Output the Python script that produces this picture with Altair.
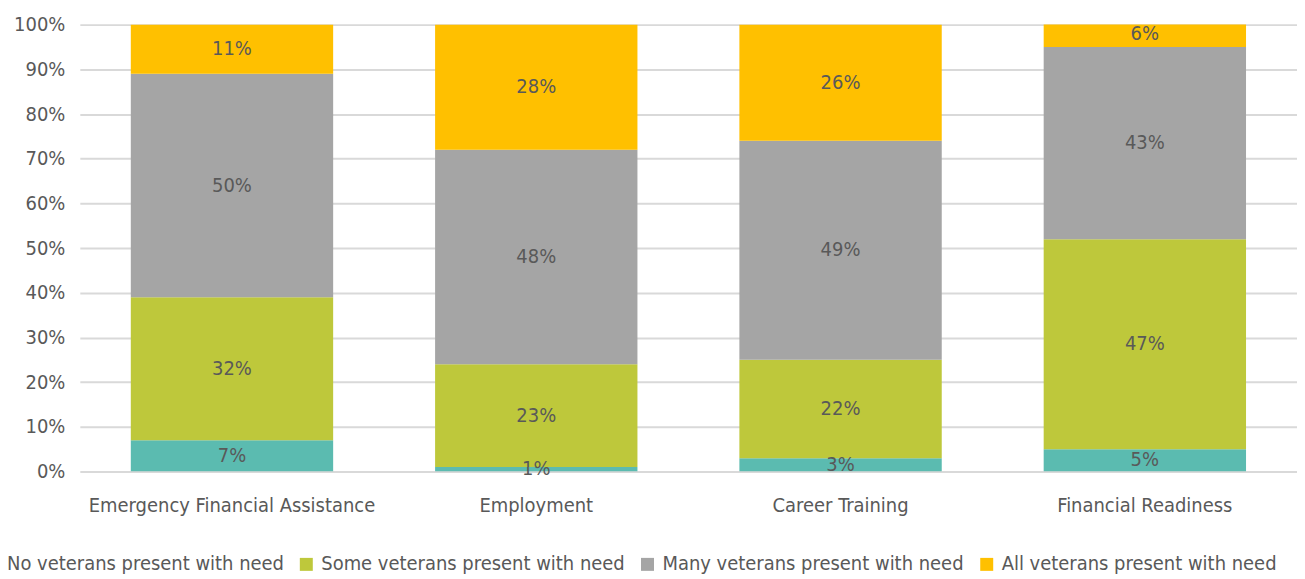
import altair as alt
import pandas as pd

categories = ["Emergency Financial Assistance", "Employment", "Career Training", "Financial Readiness"]
series = ["No veterans present with need", "Some veterans present with need",
          "Many veterans present with need", "All veterans present with need"]
colors = ["#5BBBB0", "#BEC83B", "#A5A5A5", "#FFC000"]
no_vals = [7, 1, 3, 5]
some_vals = [32, 23, 22, 47]
many_vals = [50, 48, 49, 43]
all_vals = [11, 28, 26, 6]

rows = []
for i, c in enumerate(categories):
    vals = [no_vals[i], some_vals[i], many_vals[i], all_vals[i]]
    base = 0
    for j, s in enumerate(series):
        v = vals[j]
        rows.append({"category": c, "series": s, "order": j, "value": v,
                     "y0": base, "y1": base + v, "mid": base + v / 2,
                     "label": f"{v}%"})
        base += v
df = pd.DataFrame(rows)

FONT = "DejaVu Sans Condensed, Roboto Condensed, Liberation Sans Narrow, sans-serif"
TXT = "#595959"

x = alt.X("category:N", sort=categories, title=None,
          scale=alt.Scale(paddingInner=0.335, paddingOuter=0.1675),
          axis=alt.Axis(labelAngle=0, labelFontSize=20, labelColor=TXT, labelFont=FONT,
                        ticks=False, domain=False, labelPadding=24, labelLimit=0))

bars = alt.Chart(df).mark_bar(clip=True).encode(
    x=x,
    y=alt.Y("y0:Q", title=None,
            scale=alt.Scale(domain=[0, 100], nice=False),
            axis=alt.Axis(values=list(range(0, 101, 10)), labelExpr="datum.value + '%'",
                          labelFontSize=20, labelColor=TXT, labelFont=FONT,
                          ticks=False, domain=False, gridColor="#D9D9D9", gridWidth=2,
                          labelPadding=15, labelLimit=0)),
    y2="y1:Q",
    color=alt.Color("series:N", sort=series,
                    scale=alt.Scale(domain=series, range=colors),
                    legend=alt.Legend(title=None, orient="none", direction="horizontal",
                                      legendX=-98, legendY=531,
                                      labelFontSize=20, labelColor=TXT, labelFont=FONT,
                                      symbolType="square", symbolSize=169, labelLimit=0,
                                      symbolStrokeWidth=0, columnPadding=12,
                                      labelOffset=5)),
    order="order:Q",
)

labels = alt.Chart(df).mark_text(fontSize=20, color=TXT, font=FONT, baseline="middle").encode(
    x=alt.X("category:N", sort=categories),
    y=alt.Y("mid:Q"),
    text="label:N",
)

chart = alt.layer(bars, labels).properties(
    width=1220, height=448,
    padding={"left": 72, "top": 16, "right": 0, "bottom": 106},
    autosize=alt.AutoSizeParams(type="none"),
).configure_view(stroke=None).configure_axisX(grid=False)

chart.save("out.html", embed_options={"renderer": "svg", "actions": False})
